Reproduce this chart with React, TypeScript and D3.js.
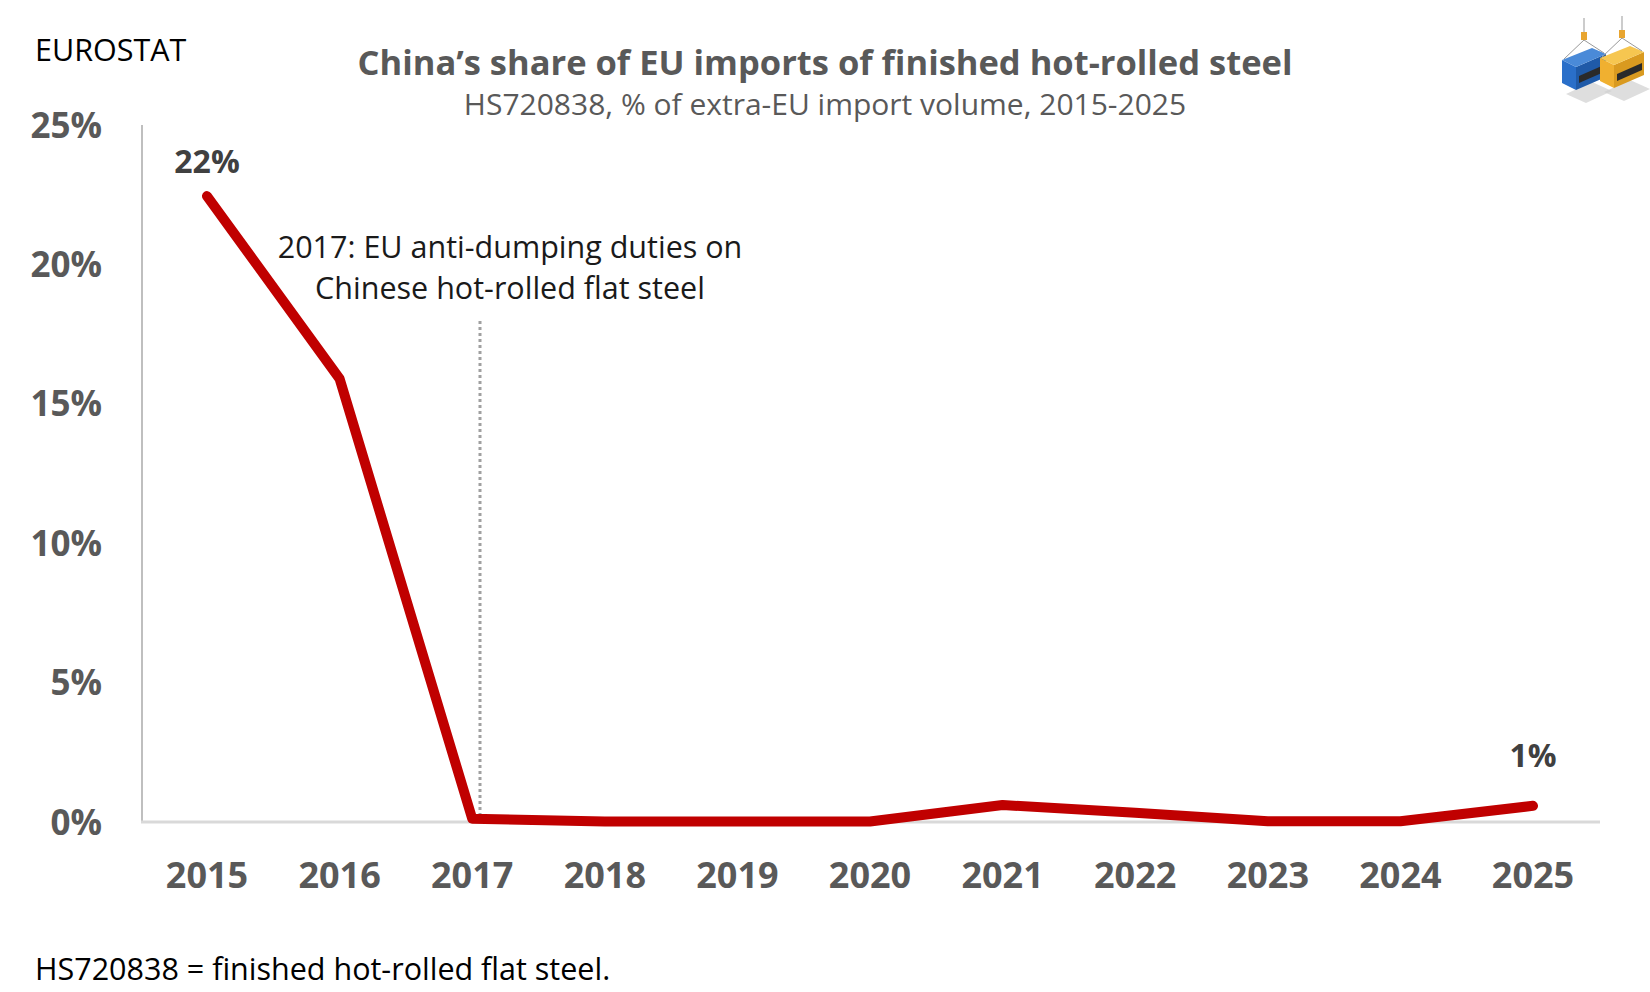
import { useEffect, useRef } from "react";
import * as d3 from "d3";

const years = [2015, 2016, 2017, 2018, 2019, 2020, 2021, 2022, 2023, 2024, 2025];
const shares = [22.45, 15.9, 0.12, 0.02, 0.02, 0.02, 0.61, 0.33, 0.03, 0.03, 0.58];
const yTicks = [0, 5, 10, 15, 20, 25];
const pointLabels = [
  { year: 2015, text: "22%" },
  { year: 2025, text: "1%" },
];
const annotationLines = ["2017: EU anti-dumping duties on", "Chinese hot-rolled flat steel"];

const W = 1650;
const H = 992;
const FONT = "'Segoe UI', 'Open Sans', 'Noto Sans', sans-serif";

export default function App() {
  const ref = useRef<SVGSVGElement | null>(null);

  useEffect(() => {
    document.body.style.margin = "0";
    if (!ref.current) return;
    const svg = d3.select(ref.current);
    svg.selectAll("*").remove();

    const x = d3.scalePoint<number>().domain(years).range([207, 1533]);
    const y = d3.scaleLinear().domain([0, 25]).range([822, 125]);

    // titles
    svg.append("text")
      .attr("x", 35).attr("y", 61)
      .attr("font-family", FONT).attr("font-size", 30.5).attr("fill", "#000")
      .text("EUROSTAT");

    svg.append("text")
      .attr("x", 825).attr("y", 75).attr("text-anchor", "middle")
      .attr("font-family", FONT).attr("font-size", 34.5).attr("font-weight", 700).attr("fill", "#595959")
      .text("China\u2019s share of EU imports of finished hot-rolled steel");

    svg.append("text")
      .attr("x", 825).attr("y", 115).attr("text-anchor", "middle")
      .attr("font-family", FONT).attr("font-size", 30).attr("fill", "#595959")
      .text("HS720838, % of extra-EU import volume, 2015-2025");

    // axes
    svg.append("line")
      .attr("x1", 142).attr("x2", 142).attr("y1", y(25)).attr("y2", y(0))
      .attr("stroke", "#bfbfbf").attr("stroke-width", 2);
    svg.append("line")
      .attr("x1", 141).attr("x2", 1600).attr("y1", y(0)).attr("y2", y(0))
      .attr("stroke", "#d9d9d9").attr("stroke-width", 3);

    svg.append("g")
      .selectAll("text")
      .data(yTicks)
      .join("text")
      .attr("x", 102).attr("y", (d) => y(d)).attr("dy", "0.36em")
      .attr("text-anchor", "end")
      .attr("font-family", FONT).attr("font-size", 35).attr("font-weight", 700).attr("fill", "#595959")
      .text((d) => `${d}%`);

    svg.append("g")
      .selectAll("text")
      .data(years)
      .join("text")
      .attr("x", (d) => x(d)!).attr("y", 888)
      .attr("text-anchor", "middle")
      .attr("font-family", FONT).attr("font-size", 36).attr("font-weight", 700).attr("fill", "#595959")
      .text((d) => String(d));

    // annotation
    svg.append("line")
      .attr("x1", 480).attr("x2", 480).attr("y1", 321).attr("y2", y(0))
      .attr("stroke", "#a0a0a0").attr("stroke-width", 3).attr("stroke-dasharray", "3 3");

    svg.append("g")
      .selectAll("text")
      .data(annotationLines)
      .join("text")
      .attr("x", 510).attr("y", (_, i) => 258 + i * 41)
      .attr("text-anchor", "middle")
      .attr("font-family", FONT).attr("font-size", 30.5).attr("fill", "#1a1a1a")
      .text((d) => d);

    // series
    const line = d3.line<number>()
      .x((_, i) => x(years[i])!)
      .y((d) => y(d));
    svg.append("path")
      .datum(shares)
      .attr("d", line)
      .attr("fill", "none")
      .attr("stroke", "#c00000")
      .attr("stroke-width", 10)
      .attr("stroke-linecap", "round")
      .attr("stroke-linejoin", "round");

    // labels sit above the point; the small one is pushed up clear of the line
    svg.append("g")
      .selectAll("text")
      .data(pointLabels)
      .join("text")
      .attr("x", (d) => x(d.year)!)
      .attr("y", (d) => {
        const v = shares[years.indexOf(d.year)];
        return y(v) - (v < 5 ? 39 : 23);
      })
      .attr("text-anchor", "middle")
      .attr("font-family", FONT).attr("font-size", 32).attr("font-weight", 700).attr("fill", "#404040")
      .text((d) => d.text);

    svg.append("text")
      .attr("x", 35).attr("y", 980)
      .attr("font-family", FONT).attr("font-size", 30.5).attr("fill", "#000")
      .text("HS720838 = finished hot-rolled flat steel.");

    // logo: two hanging containers
    const logo = svg.append("g");
    const box = (x0: number, y0: number, front: string, side: string, top: string) => {
      logo.append("polygon")
        .attr("points", `${x0 + 4},${y0 + 46} ${x0 + 24},${y0 + 55} ${x0 + 50},${y0 + 43} ${x0 + 30},${y0 + 34}`)
        .attr("fill", "#d0d0d0").attr("opacity", 0.7);
      logo.append("polygon")
        .attr("points", `${x0},${y0 + 12} ${x0 + 14},${y0 + 19} ${x0 + 14},${y0 + 42} ${x0},${y0 + 35}`)
        .attr("fill", front);
      logo.append("polygon")
        .attr("points", `${x0 + 14},${y0 + 19} ${x0 + 44},${y0 + 6} ${x0 + 44},${y0 + 29} ${x0 + 14},${y0 + 42}`)
        .attr("fill", side);
      logo.append("polygon")
        .attr("points", `${x0 + 17},${y0 + 28} ${x0 + 42},${y0 + 17} ${x0 + 42},${y0 + 24} ${x0 + 17},${y0 + 35}`)
        .attr("fill", "#2a2a2a");
      logo.append("polygon")
        .attr("points", `${x0},${y0 + 12} ${x0 + 30},${y0} ${x0 + 44},${y0 + 6} ${x0 + 14},${y0 + 19}`)
        .attr("fill", top);
      logo.append("path")
        .attr("d", `M${x0 + 2},${y0 + 11} L${x0 + 22},${y0 - 8} L${x0 + 42},${y0 + 5} M${x0 + 22},${y0 - 8} L${x0 + 22},${y0 - 30}`)
        .attr("stroke", "#999").attr("stroke-width", 1).attr("fill", "none");
      logo.append("rect")
        .attr("x", x0 + 19).attr("y", y0 - 16).attr("width", 6).attr("height", 8)
        .attr("fill", "#e8a530");
    };
    box(1562, 48, "#2a6fc9", "#1f5aa8", "#4a8ad8");
    box(1600, 46, "#f0b030", "#d99a20", "#f6c650");
  }, []);

  return <svg ref={ref} width={W} height={H} style={{ display: "block", background: "#fff" }} />;
}
